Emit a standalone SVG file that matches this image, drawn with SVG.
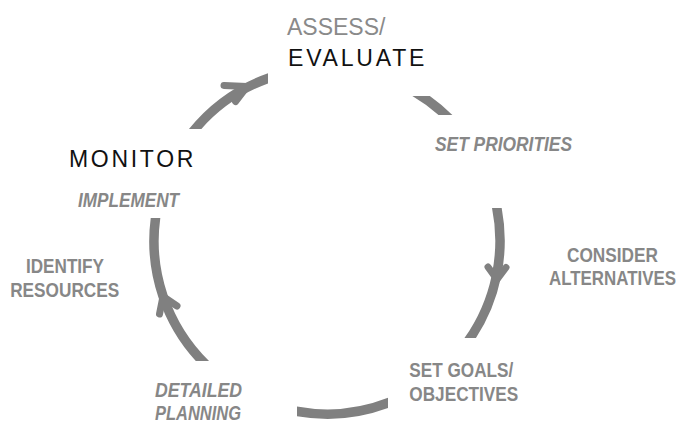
<svg xmlns="http://www.w3.org/2000/svg" width="681" height="421" viewBox="0 0 681 421">
<style>
.arc{fill:none;stroke:#808080;stroke-width:9.5}
.head{fill:none;stroke:#808080;stroke-width:7;stroke-linecap:round;stroke-linejoin:round}
.lbl{font-family:"Liberation Sans Narrow","Liberation Sans",Arial,sans-serif;font-weight:bold;font-size:21px;fill:#878787}
.it{font-style:italic}
.big{font-family:"Liberation Sans",Arial,sans-serif;font-size:23px}
</style>
<defs>
<clipPath id="c1"><rect x="100" y="40" width="168" height="89"/></clipPath>
<clipPath id="c2"><rect x="380" y="96" width="140" height="19"/></clipPath>
<clipPath id="c3"><rect x="400" y="208" width="120" height="130"/></clipPath>
<clipPath id="c4"><rect x="297" y="380" width="91" height="45"/></clipPath>
<clipPath id="c5"><rect x="100" y="218" width="150" height="143"/></clipPath>
</defs>
<rect width="681" height="421" fill="#fff"/>
<g id="connectors">
<path class="arc" clip-path="url(#c1)" d="M189.5,136 A173,173 0 0 1 276,75.7"/>
<path class="arc" clip-path="url(#c2)" d="M410,89.2 A173,173 0 0 1 451.6,121"/>
<path class="arc" clip-path="url(#c3)" d="M495.1,200 A173,173 0 0 1 465.2,345"/>
<path class="arc" clip-path="url(#c4)" d="M395,400.1 A173,173 0 0 1 290,410"/>
<path class="arc" clip-path="url(#c5)" d="M209.5,368 A173,173 0 0 1 156.8,210"/>
<path class="head" d="M224,85.5 L247,86.5 L235.5,101.5"/>
<path class="head" d="M488,267 L497,279.5 L506,267.5"/>
<path class="head" d="M159.5,314 L163,296.5 L177,306"/>
</g>
<g id="assess">
<text class="big" x="287" y="35" fill="#8a8a8a">ASSESS/</text>
<text class="big" x="288" y="66" fill="#111" letter-spacing="2.8">EVALUATE</text>
</g>
<g id="set-priorities">
<text class="lbl it" x="435" y="151" textLength="137" lengthAdjust="spacingAndGlyphs">SET PRIORITIES</text>
</g>
<g id="consider">
<text class="lbl" x="612.5" y="261.7" text-anchor="middle" textLength="91" lengthAdjust="spacingAndGlyphs">CONSIDER</text>
<text class="lbl" x="612.5" y="284.5" text-anchor="middle" textLength="127" lengthAdjust="spacingAndGlyphs">ALTERNATIVES</text>
</g>
<g id="set-goals">
<text class="lbl" x="409.3" y="376.7" textLength="104" lengthAdjust="spacingAndGlyphs">SET GOALS/</text>
<text class="lbl" x="409.3" y="400.6" textLength="109" lengthAdjust="spacingAndGlyphs">OBJECTIVES</text>
</g>
<g id="detailed-planning">
<text class="lbl it" x="155" y="397" textLength="87" lengthAdjust="spacingAndGlyphs">DETAILED</text>
<text class="lbl it" x="155" y="419.5" textLength="86" lengthAdjust="spacingAndGlyphs">PLANNING</text>
</g>
<g id="identify">
<text class="lbl" x="65" y="272.5" text-anchor="middle" textLength="78" lengthAdjust="spacingAndGlyphs">IDENTIFY</text>
<text class="lbl" x="64.7" y="296.5" text-anchor="middle" textLength="109" lengthAdjust="spacingAndGlyphs">RESOURCES</text>
</g>
<g id="implement">
<text class="lbl it" x="78" y="206.5" textLength="101" lengthAdjust="spacingAndGlyphs">IMPLEMENT</text>
</g>
<g id="monitor">
<text class="big" x="69" y="166.7" fill="#111" letter-spacing="2.7">MONITOR</text>
</g>
</svg>
